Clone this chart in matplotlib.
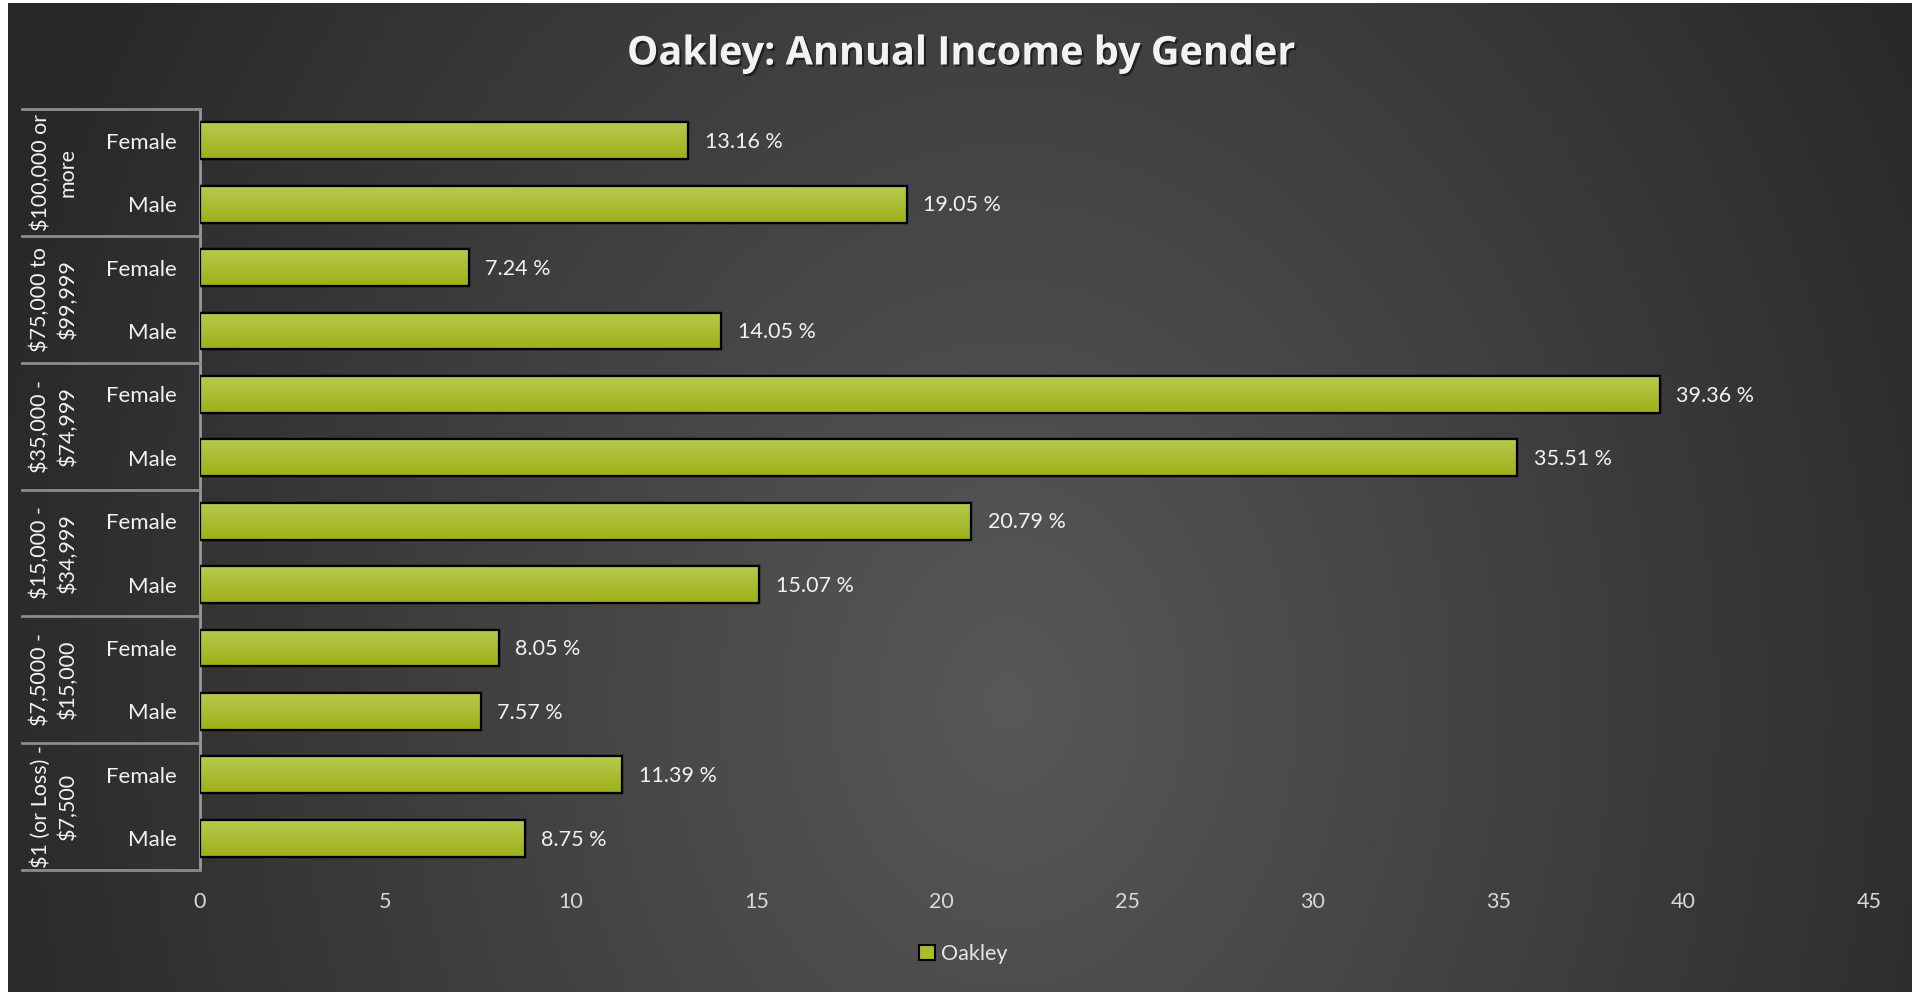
import numpy as np
import matplotlib
matplotlib.use("Agg")
import matplotlib.pyplot as plt
from matplotlib.patches import Patch
import matplotlib.patheffects as pe

plt.rcParams['font.family'] = ['Lato', 'DejaVu Sans']

# data
groups = ["$100,000 or\nmore", "$75,000 to\n$99,999", "$35,000 -\n$74,999",
          "$15,000 -\n$34,999", "$7,5000 -\n$15,000", "$1 (or Loss) -\n$7,500"]
genders = ["Female", "Male"]
female = [13.16, 7.24, 39.36, 20.79, 8.05, 11.39]
male = [19.05, 14.05, 35.51, 15.07, 7.57, 8.75]
xticks = [0, 5, 10, 15, 20, 25, 30, 35, 40, 45]

values = []
labels = []
for f, m in zip(female, male):
    values += [f, m]
    labels += genders

W, H = 1923, 992
fig = plt.figure(figsize=(W / 100, H / 100), dpi=100, facecolor='white')

# radial background
bg = fig.add_axes([8 / W, 0, 1904 / W, 989 / H], zorder=-2)
yy, xx = np.mgrid[0:989, 0:1904]
d = np.sqrt(((xx - 1000) / 1000.0) ** 2 + ((yy - 700) / 1260.0) ** 2)
v = np.clip(88 - 45 * d, 40, 90) / 255.0
bg.imshow(np.dstack([v, v, v]), aspect='auto', extent=[0, 1, 0, 1])
bg.axis('off')

ax = fig.add_axes([200 / W, 1 - 870 / H, 1669 / W, 761 / H], facecolor='none')
ypos = np.arange(len(values))
bars = ax.barh(ypos, values, height=0.58, color='#aabd22', edgecolor='black',
               linewidth=1.6, zorder=3)

# gradient fill on bars
grad = np.linspace(0, 1, 64).reshape(-1, 1)
top_c = np.array([0.72, 0.79, 0.31])
bot_c = np.array([0.62, 0.69, 0.09])
gimg = top_c * (1 - grad[..., None]) + bot_c * grad[..., None]
for b in bars:
    x0, y0 = b.get_x(), b.get_y()
    im = ax.imshow(gimg, extent=[x0, x0 + b.get_width(), y0 + b.get_height(), y0],
                   aspect='auto', zorder=3.5, origin='upper')
    im.set_clip_path(b)
    ax.add_patch(plt.Rectangle((x0, y0), b.get_width(), b.get_height(),
                               fill=False, edgecolor='black', lw=1.6, zorder=4))

for y, val in zip(ypos, values):
    ax.annotate(f"{val:.2f} %", (val, y + 0.02), xytext=(12, 0), textcoords='offset points',
                ha='left', va='center', color='#f2f2f2', fontsize=15.5)

ax.set_xlim(0, 45)
ax.set_ylim(11.5, -0.5)
ax.set_xticks(xticks)
ax.set_yticks(ypos, labels)
ax.tick_params(axis='x', length=0, pad=16, labelsize=15.5, labelcolor='#d9d9d9')
ax.tick_params(axis='y', length=0, pad=17, labelsize=16, labelcolor='#f2f2f2')
for s in ['top', 'right', 'bottom']:
    ax.spines[s].set_visible(False)
ax.spines['left'].set_color('#9a9a9a')
ax.spines['left'].set_linewidth(2)

# group box lines and labels
tr = ax.get_yaxis_transform()
x_left = (22 - 200) / 1669
for k in range(len(groups) + 1):
    ax.plot([x_left, 0], [k * 2 - 0.5] * 2, transform=tr, color='#8c8c8c',
            lw=2, clip_on=False, zorder=5)
for k, g in enumerate(groups):
    ax.text((54 - 200) / 1669, k * 2 + 0.5, g, transform=tr, rotation=90,
            ha='center', va='center', multialignment='center', fontsize=15.5,
            color='#f2f2f2', linespacing=1.45, parse_math=False)

fig.text(0.5, 1 - 54 / H, "Oakley: Annual Income by Gender", ha='center', va='center',
         fontsize=28.5, fontweight='bold', color='#f2f2f2', family=['Open Sans', 'DejaVu Sans'],
         path_effects=[pe.withSimplePatchShadow(offset=(1.5, -1.5), shadow_rgbFace='black', alpha=0.5)])

leg = fig.legend(handles=[Patch(facecolor='#aabd22', edgecolor='black', lw=1.5, label='Oakley')],
                 loc='center', bbox_to_anchor=(0.501, 1 - 954 / H), frameon=False,
                 handlelength=0.75, handleheight=0.75, handletextpad=0.3, fontsize=15.5)
for t in leg.get_texts():
    t.set_color('#e6e6e6')

fig.savefig('out.png', dpi=100, facecolor='white')
